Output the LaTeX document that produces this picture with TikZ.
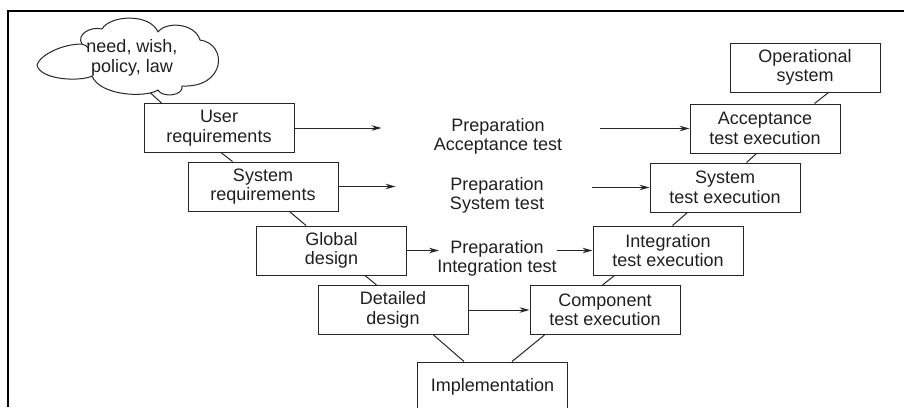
\documentclass[tikz,border=0pt]{standalone}
\usepackage{fontspec}
\setmainfont{Liberation Sans}
\usetikzlibrary{arrows.meta}
\begin{document}
\begin{tikzpicture}[x=1pt,y=-1pt,
  lbl/.style={font=\fontsize{18}{19.5}\selectfont, text=black!88},
  stage/.style={lbl, draw=black!85, line width=1pt, minimum width=150pt,
    minimum height=49pt, inner sep=0pt, align=center},
  prep/.style={lbl, align=center, inner sep=0pt},
  link/.style={draw=black!85, line width=1pt},
  arr/.style={link, -{Stealth[length=10pt,width=5.5pt]}}]
\useasboundingbox (0,0) rectangle (904,407);
\clip (0,0) rectangle (904,407);

% frame
\draw[line width=1.4pt] (904,11) -- (8,11) -- (8,407);

% origin of the requirements: a hand-drawn cloud
\draw[link, line join=round]
  (37,65) .. controls (40,55) and (62,44) .. (82,44)
  .. controls (76,35) and (90,26) .. (102,29)
  .. controls (110,15) and (150,13) .. (158,32)
  .. controls (166,21) and (195,23) .. (200,40)
  .. controls (228,44) and (226,88) .. (182,86)
  .. controls (184,96) and (162,98) .. (158,90)
  .. controls (146,98) and (100,96) .. (92,76)
  .. controls (80,82) and (40,80) .. cycle;
\draw[link] (82,44) .. controls (85,45) and (87,46) .. (88,48);
\node[prep] (cl) at (132,58) {need, wish,\\policy, law};

% left branch: specification and design
\node[stage] (ur) at (219,128)   {User\\requirements};
\node[stage] (sr) at (263,186.5) {System\\requirements};
\node[stage] (gd) at (331.5,250.5) {Global\\design};
\node[stage] (dd) at (393,310)   {Detailed\\design};

% bottom
\node[stage, minimum height=50pt] (im) at (492.5,387) {Implementation};

% right branch: test execution
\node[stage] (ct) at (605,310)   {Component\\test execution};
\node[stage] (it) at (668,250.5) {Integration\\test execution};
\node[stage] (st) at (725,187.5) {System\\test execution};
\node[stage] (at) at (765,128.5) {Acceptance\\test execution};
\node[stage] (os) at (805,67.5)  {Operational\\system};

% test preparation
\node[prep] (p1) at (498,136.5) {Preparation\\Acceptance test};
\node[prep] (p2) at (497,195.5) {Preparation\\System test};
\node[prep] (p3) at (497,258.5) {Preparation\\Integration test};

% V-shaped chain of stages
\draw[link] ([xshift=18pt]ur.north west) -- ++(-11,-10);
\draw[link] ([xshift=78pt]ur.south west) -- ([xshift=45pt]sr.north west);
\draw[link] ([xshift=102pt]sr.south west) -- ([xshift=50pt]gd.north west);
\draw[link] ([xshift=109pt]gd.south west) -- ([xshift=59pt]dd.north west);
\draw[link] ([xshift=116pt]dd.south west) -- ([xshift=47pt]im.north west);
\draw[link] ([xshift=15pt]ct.south west) -- ([xshift=95pt]im.north west);
\draw[link] ([xshift=22pt]it.south west) -- ([xshift=73pt]ct.north west);
\draw[link] ([xshift=38pt]st.south west) -- ([xshift=80pt]it.north west);
\draw[link] ([xshift=67pt]at.south west) -- ([xshift=97pt]st.north west);
\draw[link] ([xshift=99pt]os.south west) -- ([xshift=125pt]at.north west);

% preparation arrows
\draw[arr] (ur.east) -- ++(87,0);
\draw[arr] (sr.east) -- ++(57,0);
\draw[arr] (gd.east) -- ++(32,0);
\draw[arr] (dd.east) -- (ct.west);
\draw[arr] ([xshift=-90pt]at.west) -- (at.west);
\draw[arr] ([xshift=-58pt]st.west) -- (st.west);
\draw[arr] ([xshift=-36pt]it.west) -- (it.west);
\end{tikzpicture}
\end{document}
